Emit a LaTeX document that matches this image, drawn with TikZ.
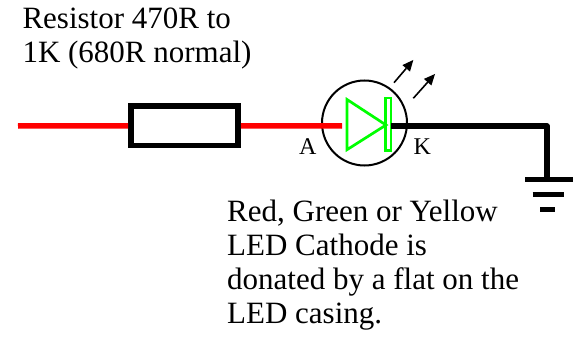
\documentclass[tikz,border=0pt]{standalone}
\usepackage{fontspec}
\setmainfont{Liberation Serif}
\begin{document}
\begin{tikzpicture}[x=1pt,y=-1pt,
  redwire/.style={draw=red,line width=5.5pt},
  blackwire/.style={draw=black,line width=5.5pt,line join=round},
  resbox/.style={draw=black,line width=5.5pt,minimum width=107.4pt,minimum height=39.5pt,inner sep=0pt},
  ledcase/.style={circle,draw=black,line width=2pt,minimum size=85pt,inner sep=0pt},
  diode/.style={draw=green,line width=2.7pt},
  lightline/.style={line width=1.6pt},
  lighthead/.style={fill=black},
  gndbar/.style={line width=5pt},
  txt/.style={inner sep=0pt,anchor=base west},
  pinlabel/.style={inner sep=0pt,anchor=base west}]
\useasboundingbox (0,0) rectangle (580,342);

% resistor and LED case
\node[resbox] (res) at (184.5,125.75) {};
\node[ledcase] (led) at (364.5,123) {};

% wire coordinates
\coordinate (start) at (18,126);
\coordinate (anode) at (342,126);
\coordinate (cathode) at (391,126);
\coordinate (corner) at (547,126);
\coordinate (gnd) at (547,179);

% red wires
\draw[redwire] (start) -- (res.west);
\draw[redwire] (res.east) -- (anode);

% diode
\draw[diode] (347,99.5) -- (386,125) -- (347,149.7) -- cycle;
\draw[diode] (385.3,98) rectangle (391,150.3);

% black wire to ground
\draw[blackwire] (cathode) -- (corner) -- (gnd);

% ground symbol
\coordinate (g1l) at (525,179);   \coordinate (g1r) at (573,179);
\coordinate (g2l) at (532.7,194); \coordinate (g2r) at (564,194);
\coordinate (g3l) at (540,209);   \coordinate (g3r) at (555,209);
\draw[gndbar] (g1l) -- (g1r);
\draw[gndbar] (g2l) -- (g2r);
\draw[gndbar] (g3l) -- (g3r);

% light arrows
\coordinate (a1s) at (394,82.7);   \coordinate (a1b) at (406.2,68.4);  \coordinate (a1e) at (413.3,60);
\coordinate (a2s) at (413.3,98.3); \coordinate (a2b) at (427.7,82.2);  \coordinate (a2e) at (435,74);
\draw[lightline] (a1s) -- (a1b);
\fill[lighthead] (a1e) -- (410,71.6) -- (402.4,65.1) -- cycle;
\draw[lightline] (a2s) -- (a2b);
\fill[lighthead] (a2e) -- (431.4,85.5) -- (423.9,78.9) -- cycle;

% pin labels
\node[pinlabel] (pa) at (299,154.3) {\fontsize{24pt}{28pt}\selectfont A};
\node[pinlabel] (pk) at (413.3,154.3) {\fontsize{24pt}{28pt}\selectfont K};

% texts
\node[txt] (t1) at (22.3,29) {\fontsize{31pt}{34pt}\selectfont Resistor 470R to};
\node[txt] (t2) at (22.3,63) {\fontsize{31pt}{34pt}\selectfont 1K (680R normal)};
\node[txt] (b1) at (227,221) {\fontsize{31pt}{34pt}\selectfont Red, Green or Yellow};
\node[txt] (b2) at (227,255.5) {\fontsize{31pt}{34pt}\selectfont LED Cathode is};
\node[txt] (b3) at (227,289.5) {\fontsize{31pt}{34pt}\selectfont donated by a flat on the};
\node[txt] (b4) at (227,323.5) {\fontsize{31pt}{34pt}\selectfont LED casing.};
\end{tikzpicture}
\end{document}
